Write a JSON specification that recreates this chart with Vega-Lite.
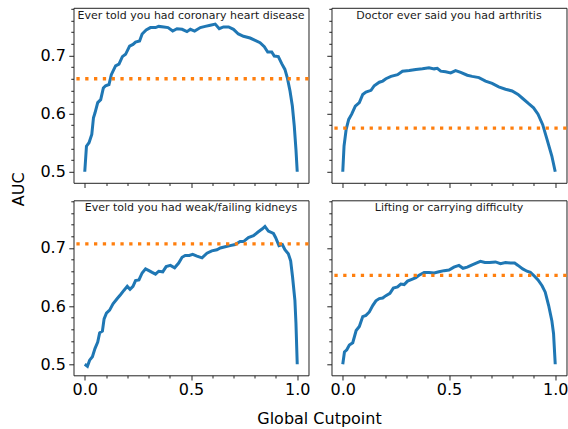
{
  "$schema": "https://vega.github.io/schema/vega-lite/v6.json",
  "padding": {"left": 9.5, "top": 6.8, "right": 0, "bottom": 0},
  "datasets": {
    "curves": [
      {"p":1,"x":0,"auc":0.5},{"p":1,"x":0.008,"auc":0.544},{"p":1,"x":0.02,"auc":0.55},{"p":1,"x":0.033,"auc":0.564},{"p":1,"x":0.041,"auc":0.593},{"p":1,"x":0.048,"auc":0.601},{"p":1,"x":0.061,"auc":0.619},{"p":1,"x":0.075,"auc":0.624},{"p":1,"x":0.0875,"auc":0.644},{"p":1,"x":0.098,"auc":0.648},{"p":1,"x":0.114,"auc":0.65},{"p":1,"x":0.125,"auc":0.667},{"p":1,"x":0.145,"auc":0.682},{"p":1,"x":0.161,"auc":0.685},{"p":1,"x":0.177,"auc":0.698},{"p":1,"x":0.192,"auc":0.702},{"p":1,"x":0.211,"auc":0.716},{"p":1,"x":0.227,"auc":0.719},{"p":1,"x":0.239,"auc":0.723},{"p":1,"x":0.258,"auc":0.725},{"p":1,"x":0.27,"auc":0.737},{"p":1,"x":0.289,"auc":0.744},{"p":1,"x":0.309,"auc":0.748},{"p":1,"x":0.333,"auc":0.748},{"p":1,"x":0.348,"auc":0.75},{"p":1,"x":0.372,"auc":0.749},{"p":1,"x":0.392,"auc":0.748},{"p":1,"x":0.414,"auc":0.742},{"p":1,"x":0.434,"auc":0.746},{"p":1,"x":0.458,"auc":0.745},{"p":1,"x":0.481,"auc":0.741},{"p":1,"x":0.497,"auc":0.745},{"p":1,"x":0.517,"auc":0.742},{"p":1,"x":0.544,"auc":0.748},{"p":1,"x":0.567,"auc":0.75},{"p":1,"x":0.591,"auc":0.752},{"p":1,"x":0.614,"auc":0.754},{"p":1,"x":0.633,"auc":0.746},{"p":1,"x":0.653,"auc":0.749},{"p":1,"x":0.677,"auc":0.749},{"p":1,"x":0.7,"auc":0.745},{"p":1,"x":0.723,"auc":0.737},{"p":1,"x":0.747,"auc":0.733},{"p":1,"x":0.778,"auc":0.73},{"p":1,"x":0.802,"auc":0.726},{"p":1,"x":0.825,"auc":0.722},{"p":1,"x":0.845,"auc":0.715},{"p":1,"x":0.861,"auc":0.706},{"p":1,"x":0.88,"auc":0.706},{"p":1,"x":0.892,"auc":0.699},{"p":1,"x":0.911,"auc":0.698},{"p":1,"x":0.927,"auc":0.686},{"p":1,"x":0.942,"auc":0.676},{"p":1,"x":0.953,"auc":0.662},{"p":1,"x":0.966,"auc":0.639},{"p":1,"x":0.977,"auc":0.613},{"p":1,"x":0.986,"auc":0.579},{"p":1,"x":0.994,"auc":0.538},{"p":1,"x":1.0,"auc":0.5},
      {"p":2,"x":0,"auc":0.5},{"p":2,"x":0.006,"auc":0.544},{"p":2,"x":0.016,"auc":0.573},{"p":2,"x":0.028,"auc":0.59},{"p":2,"x":0.042,"auc":0.599},{"p":2,"x":0.059,"auc":0.613},{"p":2,"x":0.078,"auc":0.619},{"p":2,"x":0.094,"auc":0.633},{"p":2,"x":0.109,"auc":0.637},{"p":2,"x":0.133,"auc":0.64},{"p":2,"x":0.148,"auc":0.648},{"p":2,"x":0.172,"auc":0.654},{"p":2,"x":0.188,"auc":0.656},{"p":2,"x":0.203,"auc":0.66},{"p":2,"x":0.227,"auc":0.664},{"p":2,"x":0.258,"auc":0.667},{"p":2,"x":0.281,"auc":0.673},{"p":2,"x":0.313,"auc":0.674},{"p":2,"x":0.344,"auc":0.676},{"p":2,"x":0.375,"auc":0.677},{"p":2,"x":0.406,"auc":0.679},{"p":2,"x":0.43,"auc":0.677},{"p":2,"x":0.445,"auc":0.678},{"p":2,"x":0.461,"auc":0.673},{"p":2,"x":0.484,"auc":0.672},{"p":2,"x":0.508,"auc":0.67},{"p":2,"x":0.531,"auc":0.674},{"p":2,"x":0.555,"auc":0.671},{"p":2,"x":0.586,"auc":0.666},{"p":2,"x":0.609,"auc":0.664},{"p":2,"x":0.641,"auc":0.662},{"p":2,"x":0.672,"auc":0.656},{"p":2,"x":0.703,"auc":0.652},{"p":2,"x":0.734,"auc":0.646},{"p":2,"x":0.766,"auc":0.642},{"p":2,"x":0.797,"auc":0.639},{"p":2,"x":0.825,"auc":0.633},{"p":2,"x":0.847,"auc":0.626},{"p":2,"x":0.875,"auc":0.617},{"p":2,"x":0.898,"auc":0.61},{"p":2,"x":0.919,"auc":0.599},{"p":2,"x":0.941,"auc":0.581},{"p":2,"x":0.961,"auc":0.556},{"p":2,"x":0.984,"auc":0.527},{"p":2,"x":1.0,"auc":0.5},
      {"p":3,"x":0,"auc":0.5},{"p":3,"x":0.0125,"auc":0.4966},{"p":3,"x":0.023,"auc":0.507},{"p":3,"x":0.036,"auc":0.513},{"p":3,"x":0.048,"auc":0.527},{"p":3,"x":0.061,"auc":0.538},{"p":3,"x":0.07,"auc":0.554},{"p":3,"x":0.083,"auc":0.557},{"p":3,"x":0.091,"auc":0.578},{"p":3,"x":0.102,"auc":0.588},{"p":3,"x":0.117,"auc":0.593},{"p":3,"x":0.133,"auc":0.604},{"p":3,"x":0.153,"auc":0.613},{"p":3,"x":0.169,"auc":0.62},{"p":3,"x":0.184,"auc":0.627},{"p":3,"x":0.2,"auc":0.634},{"p":3,"x":0.213,"auc":0.629},{"p":3,"x":0.227,"auc":0.634},{"p":3,"x":0.239,"auc":0.644},{"p":3,"x":0.255,"auc":0.645},{"p":3,"x":0.27,"auc":0.657},{"p":3,"x":0.286,"auc":0.664},{"p":3,"x":0.302,"auc":0.661},{"p":3,"x":0.317,"auc":0.658},{"p":3,"x":0.333,"auc":0.655},{"p":3,"x":0.348,"auc":0.66},{"p":3,"x":0.367,"auc":0.659},{"p":3,"x":0.383,"auc":0.668},{"p":3,"x":0.403,"auc":0.67},{"p":3,"x":0.423,"auc":0.666},{"p":3,"x":0.442,"auc":0.674},{"p":3,"x":0.458,"auc":0.684},{"p":3,"x":0.473,"auc":0.687},{"p":3,"x":0.492,"auc":0.687},{"p":3,"x":0.508,"auc":0.689},{"p":3,"x":0.528,"auc":0.686},{"p":3,"x":0.552,"auc":0.683},{"p":3,"x":0.575,"auc":0.691},{"p":3,"x":0.598,"auc":0.695},{"p":3,"x":0.622,"auc":0.697},{"p":3,"x":0.638,"auc":0.7},{"p":3,"x":0.661,"auc":0.702},{"p":3,"x":0.684,"auc":0.704},{"p":3,"x":0.708,"auc":0.706},{"p":3,"x":0.731,"auc":0.711},{"p":3,"x":0.747,"auc":0.711},{"p":3,"x":0.77,"auc":0.718},{"p":3,"x":0.794,"auc":0.721},{"p":3,"x":0.814,"auc":0.727},{"p":3,"x":0.836,"auc":0.733},{"p":3,"x":0.848,"auc":0.737},{"p":3,"x":0.864,"auc":0.729},{"p":3,"x":0.888,"auc":0.725},{"p":3,"x":0.898,"auc":0.718},{"p":3,"x":0.914,"auc":0.704},{"p":3,"x":0.93,"auc":0.706},{"p":3,"x":0.942,"auc":0.697},{"p":3,"x":0.958,"auc":0.69},{"p":3,"x":0.969,"auc":0.678},{"p":3,"x":0.978,"auc":0.65},{"p":3,"x":0.989,"auc":0.61},{"p":3,"x":0.994,"auc":0.57},{"p":3,"x":1.0,"auc":0.5},
      {"p":4,"x":0,"auc":0.5},{"p":4,"x":0.008,"auc":0.521},{"p":4,"x":0.019,"auc":0.525},{"p":4,"x":0.031,"auc":0.533},{"p":4,"x":0.047,"auc":0.537},{"p":4,"x":0.063,"auc":0.558},{"p":4,"x":0.078,"auc":0.565},{"p":4,"x":0.094,"auc":0.582},{"p":4,"x":0.109,"auc":0.584},{"p":4,"x":0.125,"auc":0.59},{"p":4,"x":0.141,"auc":0.601},{"p":4,"x":0.156,"auc":0.609},{"p":4,"x":0.172,"auc":0.613},{"p":4,"x":0.188,"auc":0.614},{"p":4,"x":0.203,"auc":0.618},{"p":4,"x":0.222,"auc":0.622},{"p":4,"x":0.238,"auc":0.631},{"p":4,"x":0.258,"auc":0.633},{"p":4,"x":0.273,"auc":0.638},{"p":4,"x":0.289,"auc":0.637},{"p":4,"x":0.305,"auc":0.643},{"p":4,"x":0.325,"auc":0.646},{"p":4,"x":0.344,"auc":0.649},{"p":4,"x":0.359,"auc":0.653},{"p":4,"x":0.383,"auc":0.658},{"p":4,"x":0.406,"auc":0.658},{"p":4,"x":0.43,"auc":0.657},{"p":4,"x":0.453,"auc":0.659},{"p":4,"x":0.477,"auc":0.661},{"p":4,"x":0.5,"auc":0.662},{"p":4,"x":0.523,"auc":0.667},{"p":4,"x":0.547,"auc":0.67},{"p":4,"x":0.566,"auc":0.665},{"p":4,"x":0.586,"auc":0.667},{"p":4,"x":0.609,"auc":0.671},{"p":4,"x":0.628,"auc":0.674},{"p":4,"x":0.648,"auc":0.677},{"p":4,"x":0.669,"auc":0.675},{"p":4,"x":0.691,"auc":0.675},{"p":4,"x":0.719,"auc":0.676},{"p":4,"x":0.742,"auc":0.673},{"p":4,"x":0.766,"auc":0.675},{"p":4,"x":0.789,"auc":0.674},{"p":4,"x":0.809,"auc":0.674},{"p":4,"x":0.825,"auc":0.67},{"p":4,"x":0.847,"auc":0.664},{"p":4,"x":0.867,"auc":0.66},{"p":4,"x":0.883,"auc":0.658},{"p":4,"x":0.898,"auc":0.653},{"p":4,"x":0.919,"auc":0.645},{"p":4,"x":0.938,"auc":0.635},{"p":4,"x":0.953,"auc":0.624},{"p":4,"x":0.969,"auc":0.601},{"p":4,"x":0.984,"auc":0.575},{"p":4,"x":0.992,"auc":0.553},{"p":4,"x":1.0,"auc":0.5}
    ],
    "meta": [
      {"p":1,"base":0.66,"title":"Ever told you had coronary heart disease"},
      {"p":2,"base":0.575,"title":"Doctor ever said you had arthritis"},
      {"p":3,"base":0.707,"title":"Ever told you had weak/failing kidneys"},
      {"p":4,"base":0.653,"title":"Lifting or carrying difficulty"}
    ]
  },
  "columns": 2,
  "spacing": {"row": 17.5, "column": 23},
  "bounds": "flush",
  "concat": [
    {
      "width": 235, "height": 175,
      "resolve": {"axis": {"x": "independent", "y": "independent"}},
      "layer": [
        {"data": {"name": "curves"}, "transform": [{"filter": "datum.p == 1"}],
         "mark": {"type": "line", "color": "#1f77b4", "strokeWidth": 3},
         "encoding": {
           "x": {"field": "x", "type": "quantitative", "scale": {"domain": [-0.053, 1.053], "nice": false, "zero": false},
                 "axis": {"orient": "bottom", "values": [0, 0.5, 1], "labels": false, "title": null, "tickSize": 4.7}},
           "y": {"field": "auc", "type": "quantitative", "scale": {"domain": [0.481, 0.782], "nice": false, "zero": false},
                 "axis": {"orient": "left", "values": [0.5, 0.6, 0.7], "format": ".1f", "tickSize": 4.7,
                          "labelPadding": 3.5, "title": "AUC", "titleY": 181, "titlePadding": 13}}
         }},
        {"data": {"name": "meta"}, "transform": [{"filter": "datum.p == 1"}],
         "mark": {"type": "rule", "color": "#ff7f0e", "strokeWidth": 3.3, "strokeDash": [3.3, 5.5], "strokeCap": "butt"},
         "encoding": {"y": {"field": "base", "type": "quantitative",
           "axis": {"orient": "left", "values": [0.52,0.54,0.56,0.58,0.62,0.64,0.66,0.68,0.72,0.74,0.76,0.78], "labels": false, "title": null, "tickSize": 2.7}}}},
        {"data": {"name": "meta"}, "transform": [{"filter": "datum.p == 1"}],
         "mark": {"type": "text", "fontSize": 11, "color": "#1a1a1a", "baseline": "alphabetic", "align": "center"},
         "encoding": {
           "x": {"datum": 0.5, "type": "quantitative", "axis": {"orient": "bottom", "values": [0.1,0.2,0.3,0.4,0.6,0.7,0.8,0.9], "labels": false, "title": null, "tickSize": 2.7}},
           "y": {"datum": 0.763, "type": "quantitative", "axis": null},
           "text": {"field": "title"}}}
      ]
    },
    {
      "width": 235, "height": 175,
      "resolve": {"axis": {"x": "independent", "y": "independent"}},
      "layer": [
        {"data": {"name": "curves"}, "transform": [{"filter": "datum.p == 2"}],
         "mark": {"type": "line", "color": "#1f77b4", "strokeWidth": 3},
         "encoding": {
           "x": {"field": "x", "type": "quantitative", "scale": {"domain": [-0.053, 1.053], "nice": false, "zero": false},
                 "axis": {"orient": "bottom", "values": [0, 0.5, 1], "labels": false, "title": null, "tickSize": 4.7}},
           "y": {"field": "auc", "type": "quantitative", "scale": {"domain": [0.481, 0.782], "nice": false, "zero": false},
                 "axis": {"orient": "left", "values": [0.5, 0.6, 0.7], "labels": false, "title": null, "tickSize": 4.7}}
         }},
        {"data": {"name": "meta"}, "transform": [{"filter": "datum.p == 2"}],
         "mark": {"type": "rule", "color": "#ff7f0e", "strokeWidth": 3.3, "strokeDash": [3.3, 5.5], "strokeCap": "butt"},
         "encoding": {"y": {"field": "base", "type": "quantitative",
           "axis": {"orient": "left", "values": [0.52,0.54,0.56,0.58,0.62,0.64,0.66,0.68,0.72,0.74,0.76,0.78], "labels": false, "title": null, "tickSize": 2.7}}}},
        {"data": {"name": "meta"}, "transform": [{"filter": "datum.p == 2"}],
         "mark": {"type": "text", "fontSize": 11, "color": "#1a1a1a", "baseline": "alphabetic", "align": "center"},
         "encoding": {
           "x": {"datum": 0.5, "type": "quantitative", "axis": {"orient": "bottom", "values": [0.1,0.2,0.3,0.4,0.6,0.7,0.8,0.9], "labels": false, "title": null, "tickSize": 2.7}},
           "y": {"datum": 0.763, "type": "quantitative", "axis": null},
           "text": {"field": "title"}}}
      ]
    },
    {
      "width": 235, "height": 175,
      "resolve": {"axis": {"x": "independent", "y": "independent"}},
      "layer": [
        {"data": {"name": "curves"}, "transform": [{"filter": "datum.p == 3"}],
         "mark": {"type": "line", "color": "#1f77b4", "strokeWidth": 3},
         "encoding": {
           "x": {"field": "x", "type": "quantitative", "scale": {"domain": [-0.053, 1.053], "nice": false, "zero": false},
                 "axis": {"orient": "bottom", "values": [0, 0.5, 1], "format": ".1f", "tickSize": 4.7, "labelPadding": 2,
                          "title": "Global Cutpoint", "titleX": 245.5, "titlePadding": 13}},
           "y": {"field": "auc", "type": "quantitative", "scale": {"domain": [0.481, 0.782], "nice": false, "zero": false},
                 "axis": {"orient": "left", "values": [0.5, 0.6, 0.7], "format": ".1f", "tickSize": 4.7, "labelPadding": 3.5, "title": null}}
         }},
        {"data": {"name": "meta"}, "transform": [{"filter": "datum.p == 3"}],
         "mark": {"type": "rule", "color": "#ff7f0e", "strokeWidth": 3.3, "strokeDash": [3.3, 5.5], "strokeCap": "butt"},
         "encoding": {"y": {"field": "base", "type": "quantitative",
           "axis": {"orient": "left", "values": [0.52,0.54,0.56,0.58,0.62,0.64,0.66,0.68,0.72,0.74,0.76,0.78], "labels": false, "title": null, "tickSize": 2.7}}}},
        {"data": {"name": "meta"}, "transform": [{"filter": "datum.p == 3"}],
         "mark": {"type": "text", "fontSize": 11, "color": "#1a1a1a", "baseline": "alphabetic", "align": "center"},
         "encoding": {
           "x": {"datum": 0.5, "type": "quantitative", "axis": {"orient": "bottom", "values": [0.1,0.2,0.3,0.4,0.6,0.7,0.8,0.9], "labels": false, "title": null, "tickSize": 2.7}},
           "y": {"datum": 0.763, "type": "quantitative", "axis": null},
           "text": {"field": "title"}}}
      ]
    },
    {
      "width": 235, "height": 175,
      "resolve": {"axis": {"x": "independent", "y": "independent"}},
      "layer": [
        {"data": {"name": "curves"}, "transform": [{"filter": "datum.p == 4"}],
         "mark": {"type": "line", "color": "#1f77b4", "strokeWidth": 3},
         "encoding": {
           "x": {"field": "x", "type": "quantitative", "scale": {"domain": [-0.053, 1.053], "nice": false, "zero": false},
                 "axis": {"orient": "bottom", "values": [0, 0.5, 1], "format": ".1f", "tickSize": 4.7, "labelPadding": 2, "title": null}},
           "y": {"field": "auc", "type": "quantitative", "scale": {"domain": [0.481, 0.782], "nice": false, "zero": false},
                 "axis": {"orient": "left", "values": [0.5, 0.6, 0.7], "labels": false, "title": null, "tickSize": 4.7}}
         }},
        {"data": {"name": "meta"}, "transform": [{"filter": "datum.p == 4"}],
         "mark": {"type": "rule", "color": "#ff7f0e", "strokeWidth": 3.3, "strokeDash": [3.3, 5.5], "strokeCap": "butt"},
         "encoding": {"y": {"field": "base", "type": "quantitative",
           "axis": {"orient": "left", "values": [0.52,0.54,0.56,0.58,0.62,0.64,0.66,0.68,0.72,0.74,0.76,0.78], "labels": false, "title": null, "tickSize": 2.7}}}},
        {"data": {"name": "meta"}, "transform": [{"filter": "datum.p == 4"}],
         "mark": {"type": "text", "fontSize": 11, "color": "#1a1a1a", "baseline": "alphabetic", "align": "center"},
         "encoding": {
           "x": {"datum": 0.5, "type": "quantitative", "axis": {"orient": "bottom", "values": [0.1,0.2,0.3,0.4,0.6,0.7,0.8,0.9], "labels": false, "title": null, "tickSize": 2.7}},
           "y": {"datum": 0.763, "type": "quantitative", "axis": null},
           "text": {"field": "title"}}}
      ]
    }
  ],
  "config": {
    "view": {"stroke": "#222222", "strokeWidth": 1},
    "axis": {"domain": false, "grid": false, "labelFlush": false, "labelOverlap": false, "labelFont": "DejaVu Sans", "labelFontSize": 16, "labelColor": "#000000",
             "tickColor": "#222222", "tickWidth": 1, "titleFont": "DejaVu Sans", "titleFontSize": 16, "titleFontWeight": "normal", "titleColor": "#000000"},
    "text": {"font": "DejaVu Sans"}
  }
}
